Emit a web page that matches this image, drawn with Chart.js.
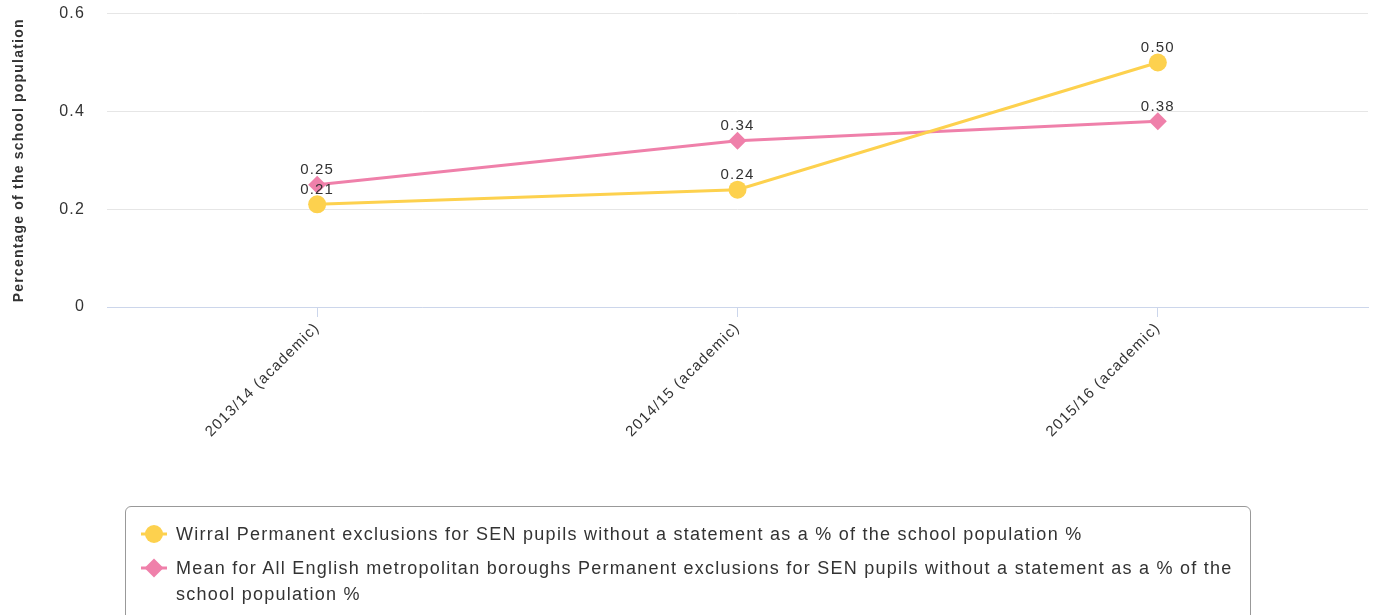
<!DOCTYPE html>
<html>
<head>
<meta charset="utf-8">
<script src="https://cdn.jsdelivr.net/npm/chart.js@4/dist/chart.umd.min.js"></script>
<style>
  body { margin: 0; background: #fff; font-family: "Liberation Sans", Arial, sans-serif; }
  #wrap { position: relative; width: 1374px; height: 615px; overflow: hidden; }
  #chartBox { position: absolute; left: 0; top: -18px; width: 1377px; height: 518px; }
  #legend {
    position: absolute; left: 125px; top: 506px; width: 1126px; height: 130px;
    box-sizing: border-box; border: 1px solid #999; border-radius: 6px;
    padding: 14px 12px 0 14px; color: #333; font-size: 18px; line-height: 26px;
    letter-spacing: 1.25px;
  }
  .item { display: flex; align-items: flex-start; margin-bottom: 8px; }
  .sym { flex: 0 0 36px; height: 26px; }
</style>
</head>
<body>
<div id="wrap">
  <div id="chartBox"><canvas id="chart"></canvas></div>
  <div id="legend"></div>
</div>
<script>
const categories = ["2013/14 (academic)", "2014/15 (academic)", "2015/16 (academic)"];
const wirralValues = [0.21, 0.24, 0.50];
const meanValues = [0.25, 0.34, 0.38];
const seriesNames = [
  "Wirral Permanent exclusions for SEN pupils without a statement as a % of the school population %",
  "Mean for All English metropolitan boroughs Permanent exclusions for SEN pupils without a statement as a % of the school population %"
];
const yTicks = [0, 0.2, 0.4, 0.6];

const yellow = "#fdd14e";
const pink = "#ef80aa";
const fontFamily = "'Liberation Sans', Arial, sans-serif";

// the reference text is spaced out a little, canvas state gets reset on resize
const spacing = {
  id: "spacing",
  beforeUpdate(chart) { chart.ctx.letterSpacing = "1.2px"; },
  beforeDraw(chart) { chart.ctx.letterSpacing = "1.2px"; }
};

// draws the value above every point
const valueLabels = {
  id: "valueLabels",
  afterDatasetsDraw(chart) {
    const ctx = chart.ctx;
    ctx.save();
    ctx.letterSpacing = "1.2px";
    ctx.font = "15px " + fontFamily;
    ctx.fillStyle = "#333";
    ctx.textAlign = "center";
    ctx.textBaseline = "bottom";
    chart.data.datasets.forEach((ds, i) => {
      chart.getDatasetMeta(i).data.forEach((pt, j) => {
        ctx.fillText(ds.data[j].toFixed(2), pt.x, pt.y - 7);
      });
    });
    ctx.restore();
  }
};

const ctx = document.getElementById("chart").getContext("2d");
new Chart(ctx, {
  type: "line",
  data: {
    labels: categories,
    datasets: [
      {
        label: seriesNames[0],
        data: wirralValues,
        borderColor: yellow,
        backgroundColor: yellow,
        borderWidth: 3,
        pointStyle: "circle",
        pointRadius: 9,
        pointBorderWidth: 0,
        order: 1
      },
      {
        label: seriesNames[1],
        data: meanValues,
        borderColor: pink,
        backgroundColor: pink,
        borderWidth: 3,
        pointStyle: "rectRot",
        pointRadius: 9,
        pointBorderWidth: 0,
        order: 2
      }
    ]
  },
  options: {
    responsive: true,
    maintainAspectRatio: false,
    animation: false,
    layout: { padding: { top: 0, right: 0, left: 0, bottom: 0 } },
    plugins: {
      legend: { display: false },
      tooltip: { enabled: false }
    },
    scales: {
      x: {
        offset: true,
        grid: {
          drawOnChartArea: false,
          drawTicks: true,
          tickLength: 10,
          color: "#ccd6eb"
        },
        border: { color: "#ccd6eb", width: 1 },
        ticks: {
          color: "#333",
          font: { size: 15, family: fontFamily },
          minRotation: 45,
          maxRotation: 45,
          padding: 2
        },
        afterFit: (s) => { s.height = 193; }
      },
      y: {
        min: 0,
        max: 0.6,
        afterBuildTicks: (s) => { s.ticks = yTicks.map(v => ({ value: v })); },
        grid: { color: "#e6e6e6", drawTicks: false },
        border: { display: false },
        ticks: {
          color: "#333",
          padding: 22,
          font: { size: 16, family: fontFamily },
          callback: (v) => v === 0 ? "0" : v.toFixed(1)
        },
        title: {
          display: true,
          text: "Percentage of the school population",
          color: "#333",
          font: { size: 14, weight: "bold", family: fontFamily },
          padding: { top: 11, bottom: 0 }
        },
        afterFit: (s) => { s.width = 107; }
      }
    }
  },
  plugins: [spacing, valueLabels]
});

// legend built from the same series
const legend = document.getElementById("legend");
const legendColors = [yellow, pink];
const legendShapes = ["circle", "diamond"];
seriesNames.forEach((name, i) => {
  const item = document.createElement("div");
  item.className = "item";
  const c = document.createElement("canvas");
  c.className = "sym";
  c.width = 36; c.height = 26;
  const g = c.getContext("2d");
  g.strokeStyle = legendColors[i];
  g.fillStyle = legendColors[i];
  g.lineWidth = 3;
  g.beginPath(); g.moveTo(1, 13); g.lineTo(27, 13); g.stroke();
  g.beginPath();
  if (legendShapes[i] === "circle") {
    g.arc(14, 13, 9, 0, Math.PI * 2);
  } else {
    g.moveTo(14, 3.5); g.lineTo(23.5, 13); g.lineTo(14, 22.5); g.lineTo(4.5, 13); g.closePath();
  }
  g.fill();
  const t = document.createElement("span");
  t.textContent = name;
  item.appendChild(c);
  item.appendChild(t);
  legend.appendChild(item);
});
</script>
</body>
</html>
